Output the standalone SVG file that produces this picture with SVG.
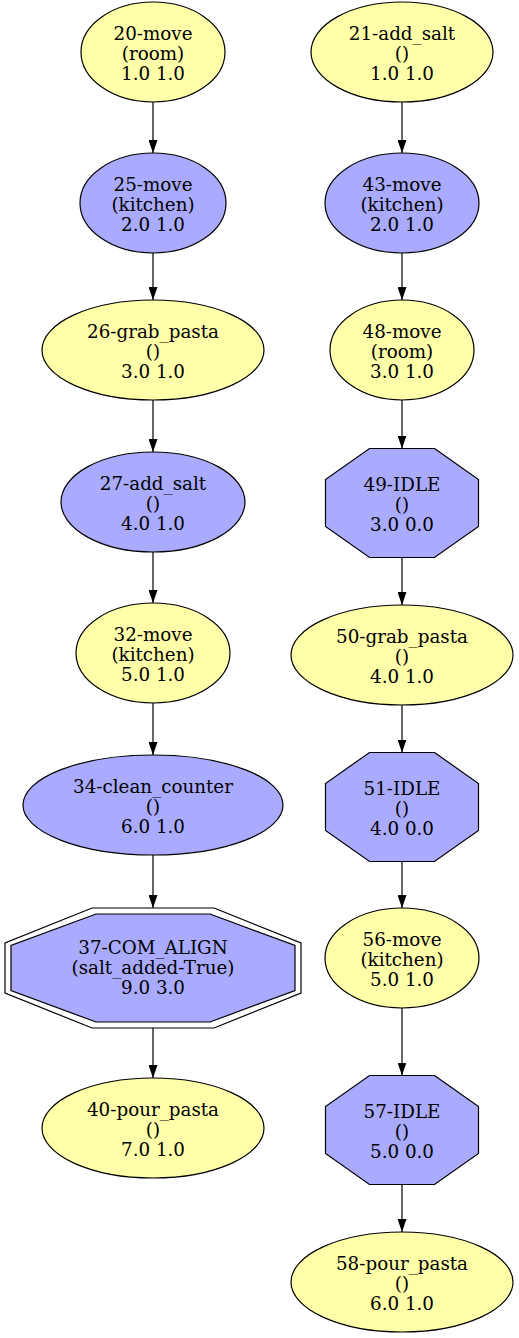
<svg xmlns="http://www.w3.org/2000/svg" width="519" height="1338" viewBox="0 0 519 1338">
<defs>
<marker id="ah" viewBox="0 0 13 9" refX="13" refY="4.5" markerWidth="13" markerHeight="9" markerUnits="userSpaceOnUse" orient="auto">
<path d="M0,0 L13,4.5 L0,9 Z" fill="#000"/>
</marker>
<style>
.y{fill:#ffffaa;stroke:#000;stroke-width:1.2}
.b{fill:#aaaaff;stroke:#000;stroke-width:1.2}
.o{fill:none;stroke:#000;stroke-width:1.2}
text{font-family:"DejaVu Serif","Liberation Serif",serif;font-size:18.3px;text-anchor:middle;fill:#000}
.e{stroke:#000;stroke-width:1.2;fill:none;marker-end:url(#ah)}
</style>
</defs>
<rect width="519" height="1338" fill="#fff"/>
<g id="edges">
<line class="e" x1="153" y1="102" x2="153" y2="153"/>
<line class="e" x1="153" y1="253" x2="153" y2="300"/>
<line class="e" x1="153" y1="400" x2="153" y2="452"/>
<line class="e" x1="153" y1="552" x2="153" y2="603"/>
<line class="e" x1="153" y1="703" x2="153" y2="755"/>
<line class="e" x1="153" y1="855" x2="153" y2="908"/>
<line class="e" x1="153" y1="1028" x2="153" y2="1078"/>
<line class="e" x1="402" y1="102" x2="402" y2="153"/>
<line class="e" x1="402" y1="253" x2="402" y2="300"/>
<line class="e" x1="402" y1="400" x2="402" y2="448.5"/>
<line class="e" x1="402" y1="557.5" x2="402" y2="605"/>
<line class="e" x1="402" y1="705" x2="402" y2="752.5"/>
<line class="e" x1="402" y1="861.5" x2="402" y2="908"/>
<line class="e" x1="402" y1="1008" x2="402" y2="1075.5"/>
<line class="e" x1="402" y1="1184.5" x2="402" y2="1232"/>
</g>
<g id="n20"><ellipse class="y" cx="153" cy="52" rx="72" ry="50"/><text x="153" y="40">20-move</text><text x="153" y="60">(room)</text><text x="153" y="80">1.0 1.0</text></g>
<g id="n25"><ellipse class="b" cx="153" cy="203" rx="73" ry="50"/><text x="153" y="191">25-move</text><text x="153" y="211">(kitchen)</text><text x="153" y="231">2.0 1.0</text></g>
<g id="n26"><ellipse class="y" cx="153" cy="350" rx="111" ry="50"/><text x="153" y="338">26-grab_pasta</text><text x="153" y="358">()</text><text x="153" y="378">3.0 1.0</text></g>
<g id="n27"><ellipse class="b" cx="153" cy="502" rx="92" ry="50"/><text x="153" y="490">27-add_salt</text><text x="153" y="510">()</text><text x="153" y="530">4.0 1.0</text></g>
<g id="n32"><ellipse class="y" cx="153" cy="653" rx="77" ry="50"/><text x="153" y="641">32-move</text><text x="153" y="661">(kitchen)</text><text x="153" y="681">5.0 1.0</text></g>
<g id="n34"><ellipse class="b" cx="153" cy="805" rx="130" ry="50"/><text x="153" y="793">34-clean_counter</text><text x="153" y="813">()</text><text x="153" y="833">6.0 1.0</text></g>
<g id="n37"><polygon class="b" points="210,914 295,945.5 295,990.5 210,1022 96,1022 11,990.5 11,945.5 96,914"/><polygon class="o" points="214,908 301,943 301,993 214,1028 92,1028 5,993 5,943 92,908"/><text x="153" y="954">37-COM_ALIGN</text><text x="153" y="974">(salt_added-True)</text><text x="153" y="994">9.0 3.0</text></g>
<g id="n40"><ellipse class="y" cx="153" cy="1128" rx="111" ry="50"/><text x="153" y="1116">40-pour_pasta</text><text x="153" y="1136">()</text><text x="153" y="1156">7.0 1.0</text></g>
<g id="n21"><ellipse class="y" cx="402" cy="52" rx="91" ry="50"/><text x="402" y="40">21-add_salt</text><text x="402" y="60">()</text><text x="402" y="80">1.0 1.0</text></g>
<g id="n43"><ellipse class="b" cx="402" cy="203" rx="77" ry="50"/><text x="402" y="191">43-move</text><text x="402" y="211">(kitchen)</text><text x="402" y="231">2.0 1.0</text></g>
<g id="n48"><ellipse class="y" cx="402" cy="350" rx="72" ry="50"/><text x="402" y="338">48-move</text><text x="402" y="358">(room)</text><text x="402" y="378">3.0 1.0</text></g>
<g id="n49"><polygon class="b" points="434.5,448.5 478.5,479.5 478.5,526.5 434.5,557.5 369.5,557.5 325.5,526.5 325.5,479.5 369.5,448.5"/><text x="402" y="491">49-IDLE</text><text x="402" y="511">()</text><text x="402" y="531">3.0 0.0</text></g>
<g id="n50"><ellipse class="y" cx="402" cy="655" rx="111" ry="50"/><text x="402" y="643">50-grab_pasta</text><text x="402" y="663">()</text><text x="402" y="683">4.0 1.0</text></g>
<g id="n51"><polygon class="b" points="434.5,752.5 478.5,783.5 478.5,830.5 434.5,861.5 369.5,861.5 325.5,830.5 325.5,783.5 369.5,752.5"/><text x="402" y="795">51-IDLE</text><text x="402" y="815">()</text><text x="402" y="835">4.0 0.0</text></g>
<g id="n56"><ellipse class="y" cx="402" cy="958" rx="77" ry="50"/><text x="402" y="946">56-move</text><text x="402" y="966">(kitchen)</text><text x="402" y="986">5.0 1.0</text></g>
<g id="n57"><polygon class="b" points="434.5,1075.5 478.5,1106.5 478.5,1153.5 434.5,1184.5 369.5,1184.5 325.5,1153.5 325.5,1106.5 369.5,1075.5"/><text x="402" y="1118">57-IDLE</text><text x="402" y="1138">()</text><text x="402" y="1158">5.0 0.0</text></g>
<g id="n58"><ellipse class="y" cx="402" cy="1282" rx="111" ry="50"/><text x="402" y="1270">58-pour_pasta</text><text x="402" y="1290">()</text><text x="402" y="1310">6.0 1.0</text></g>
</svg>
